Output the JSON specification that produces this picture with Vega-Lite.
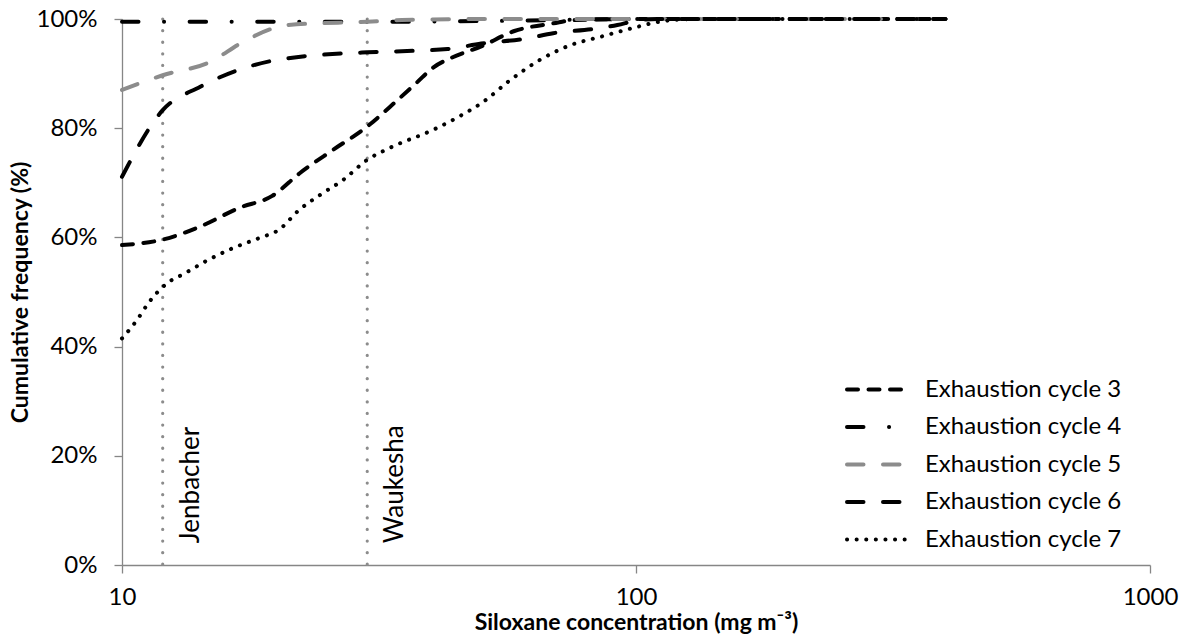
{
  "$schema": "https://vega.github.io/schema/vega-lite/v6.json",
  "width": 1028,
  "height": 546,
  "autosize": {"type": "none"},
  "padding": {"left": 122, "top": 19, "right": 38, "bottom": 69},
  "background": "white",
  "config": {
    "view": {"stroke": null},
    "font": "Lato",
    "axis": {
      "grid": false,
      "domainColor": "#868686",
      "domainWidth": 1.3,
      "tickColor": "#868686",
      "tickWidth": 1.3,
      "tickSize": 8,
      "labelFont": "Lato",
      "labelFontSize": 24,
      "labelColor": "black",
      "titleFont": "Lato",
      "titleFontSize": 23,
      "titleFontWeight": "bold",
      "titleColor": "black"
    }
  },
  "datasets": {
    "limits": [
      {"engine": "Jenbacher", "conc": 12},
      {"engine": "Waukesha", "conc": 30}
    ],
    "curves": [
      {"series": "Exhaustion cycle 3", "conc": 10, "freq": 0.586},
      {"series": "Exhaustion cycle 3", "conc": 12, "freq": 0.596},
      {"series": "Exhaustion cycle 3", "conc": 14.2, "freq": 0.620},
      {"series": "Exhaustion cycle 3", "conc": 16.9, "freq": 0.654},
      {"series": "Exhaustion cycle 3", "conc": 19.6, "freq": 0.676},
      {"series": "Exhaustion cycle 3", "conc": 22.2, "freq": 0.718},
      {"series": "Exhaustion cycle 3", "conc": 25.7, "freq": 0.760},
      {"series": "Exhaustion cycle 3", "conc": 30, "freq": 0.803},
      {"series": "Exhaustion cycle 3", "conc": 33.2, "freq": 0.839},
      {"series": "Exhaustion cycle 3", "conc": 37.4, "freq": 0.883},
      {"series": "Exhaustion cycle 3", "conc": 40.3, "freq": 0.911},
      {"series": "Exhaustion cycle 3", "conc": 44, "freq": 0.930},
      {"series": "Exhaustion cycle 3", "conc": 50, "freq": 0.950},
      {"series": "Exhaustion cycle 3", "conc": 58, "freq": 0.978},
      {"series": "Exhaustion cycle 3", "conc": 69, "freq": 0.992},
      {"series": "Exhaustion cycle 3", "conc": 76, "freq": 0.998},
      {"series": "Exhaustion cycle 3", "conc": 100, "freq": 1.0},
      {"series": "Exhaustion cycle 3", "conc": 400, "freq": 1.0},
      {"series": "Exhaustion cycle 4", "conc": 10, "freq": 0.995},
      {"series": "Exhaustion cycle 4", "conc": 30, "freq": 0.995},
      {"series": "Exhaustion cycle 4", "conc": 60, "freq": 0.997},
      {"series": "Exhaustion cycle 4", "conc": 100, "freq": 1.0},
      {"series": "Exhaustion cycle 4", "conc": 400, "freq": 1.0},
      {"series": "Exhaustion cycle 5", "conc": 10, "freq": 0.870},
      {"series": "Exhaustion cycle 5", "conc": 12, "freq": 0.897},
      {"series": "Exhaustion cycle 5", "conc": 14.8, "freq": 0.921},
      {"series": "Exhaustion cycle 5", "conc": 17.2, "freq": 0.958},
      {"series": "Exhaustion cycle 5", "conc": 19.7, "freq": 0.983},
      {"series": "Exhaustion cycle 5", "conc": 21, "freq": 0.989},
      {"series": "Exhaustion cycle 5", "conc": 30, "freq": 0.995},
      {"series": "Exhaustion cycle 5", "conc": 35, "freq": 0.998},
      {"series": "Exhaustion cycle 5", "conc": 50, "freq": 1.0},
      {"series": "Exhaustion cycle 5", "conc": 400, "freq": 1.0},
      {"series": "Exhaustion cycle 6", "conc": 10, "freq": 0.711},
      {"series": "Exhaustion cycle 6", "conc": 12, "freq": 0.833},
      {"series": "Exhaustion cycle 6", "conc": 14.2, "freq": 0.876},
      {"series": "Exhaustion cycle 6", "conc": 16.9, "freq": 0.907},
      {"series": "Exhaustion cycle 6", "conc": 20, "freq": 0.925},
      {"series": "Exhaustion cycle 6", "conc": 30, "freq": 0.939},
      {"series": "Exhaustion cycle 6", "conc": 35, "freq": 0.941},
      {"series": "Exhaustion cycle 6", "conc": 43, "freq": 0.945},
      {"series": "Exhaustion cycle 6", "conc": 50, "freq": 0.955},
      {"series": "Exhaustion cycle 6", "conc": 61, "freq": 0.964},
      {"series": "Exhaustion cycle 6", "conc": 69, "freq": 0.974},
      {"series": "Exhaustion cycle 6", "conc": 83, "freq": 0.982},
      {"series": "Exhaustion cycle 6", "conc": 92, "freq": 0.989},
      {"series": "Exhaustion cycle 6", "conc": 100, "freq": 0.997},
      {"series": "Exhaustion cycle 6", "conc": 110, "freq": 1.0},
      {"series": "Exhaustion cycle 6", "conc": 400, "freq": 1.0},
      {"series": "Exhaustion cycle 7", "conc": 10, "freq": 0.415},
      {"series": "Exhaustion cycle 7", "conc": 10.7, "freq": 0.449},
      {"series": "Exhaustion cycle 7", "conc": 11.3, "freq": 0.482},
      {"series": "Exhaustion cycle 7", "conc": 12.2, "freq": 0.515},
      {"series": "Exhaustion cycle 7", "conc": 13.3, "freq": 0.535},
      {"series": "Exhaustion cycle 7", "conc": 14.6, "freq": 0.557},
      {"series": "Exhaustion cycle 7", "conc": 16.4, "freq": 0.580},
      {"series": "Exhaustion cycle 7", "conc": 18.5, "freq": 0.599},
      {"series": "Exhaustion cycle 7", "conc": 20.2, "freq": 0.614},
      {"series": "Exhaustion cycle 7", "conc": 22.1, "freq": 0.650},
      {"series": "Exhaustion cycle 7", "conc": 24.3, "freq": 0.678},
      {"series": "Exhaustion cycle 7", "conc": 26.9, "freq": 0.705},
      {"series": "Exhaustion cycle 7", "conc": 30, "freq": 0.742},
      {"series": "Exhaustion cycle 7", "conc": 33.2, "freq": 0.764},
      {"series": "Exhaustion cycle 7", "conc": 40.3, "freq": 0.797},
      {"series": "Exhaustion cycle 7", "conc": 45, "freq": 0.820},
      {"series": "Exhaustion cycle 7", "conc": 50.4, "freq": 0.848},
      {"series": "Exhaustion cycle 7", "conc": 56.9, "freq": 0.888},
      {"series": "Exhaustion cycle 7", "conc": 65, "freq": 0.925},
      {"series": "Exhaustion cycle 7", "conc": 74.5, "freq": 0.952},
      {"series": "Exhaustion cycle 7", "conc": 85, "freq": 0.967},
      {"series": "Exhaustion cycle 7", "conc": 100, "freq": 0.985},
      {"series": "Exhaustion cycle 7", "conc": 111, "freq": 0.995},
      {"series": "Exhaustion cycle 7", "conc": 130, "freq": 1.0},
      {"series": "Exhaustion cycle 7", "conc": 400, "freq": 1.0}
    ]
  },
  "layer": [
    {
      "data": {"name": "limits"},
      "mark": {"type": "rule", "color": "#8c8c8c", "strokeWidth": 3.2, "strokeDash": [0.1, 11.5], "strokeCap": "round"},
      "encoding": {
        "x": {"field": "conc", "type": "quantitative", "scale": {"type": "log", "domain": [10, 1000]}, "title": "Siloxane concentration (mg m⁻³)"}
      }
    },
    {
      "data": {"name": "limits"},
      "mark": {"type": "text", "angle": 270, "align": "left", "baseline": "middle", "dy": 28, "fontSize": 26, "font": "Lato", "color": "black"},
      "encoding": {
        "x": {"field": "conc", "type": "quantitative", "scale": {"type": "log", "domain": [10, 1000]}, "title": "Siloxane concentration (mg m⁻³)"},
        "y": {"datum": 0.04, "type": "quantitative", "scale": {"domain": [0, 1]}, "title": "Cumulative frequency (%)"},
        "text": {"field": "engine"}
      }
    },
    {
      "data": {"name": "curves"},
      "mark": {"type": "line", "interpolate": "monotone", "strokeWidth": 4, "strokeCap": "round"},
      "encoding": {
        "x": {
          "field": "conc", "type": "quantitative",
          "scale": {"type": "log", "domain": [10, 1000]},
          "title": "Siloxane concentration (mg m⁻³)",
          "axis": {"values": [10, 100, 1000], "format": "d", "labelPadding": 12, "titlePadding": 2, "labelFlush": false}
        },
        "y": {
          "field": "freq", "type": "quantitative",
          "scale": {"domain": [0, 1]},
          "title": "Cumulative frequency (%)",
          "axis": {"values": [0, 0.2, 0.4, 0.6, 0.8, 1], "format": ".0%", "labelPadding": 17, "titlePadding": 4}
        },
        "color": {
          "field": "series", "type": "nominal",
          "scale": {"domain": ["Exhaustion cycle 3", "Exhaustion cycle 4", "Exhaustion cycle 5", "Exhaustion cycle 6", "Exhaustion cycle 7"], "range": ["#000000", "#000000", "#8c8c8c", "#000000", "#000000"]},
          "legend": {
            "title": null, "orient": "none", "legendX": 744, "legendY": 358,
            "symbolType": "M-3,0H3", "symbolSize": 441, "symbolStrokeWidth": 4, "symbolFillColor": "transparent",
            "labelFont": "Lato", "labelFontSize": 24, "labelColor": "black", "labelLimit": 400,
            "rowPadding": 12.5, "labelOffset": 34,
            "encode": {"symbols": {"update": {"strokeCap": {"value": "round"}, "fill": {"value": "transparent"}}}}
          }
        },
        "strokeDash": {
          "field": "series", "type": "nominal",
          "scale": {"domain": ["Exhaustion cycle 3", "Exhaustion cycle 4", "Exhaustion cycle 5", "Exhaustion cycle 6", "Exhaustion cycle 7"], "range": [[11, 10.5], [16.5, 25.5, 0.1, 25.5], [16.5, 19.5], [16.5, 19.5], [0.1, 9.5]]},
          "legend": {
            "title": null, "orient": "none", "legendX": 744, "legendY": 358,
            "symbolType": "M-3,0H3", "symbolSize": 441, "symbolStrokeWidth": 4, "symbolFillColor": "transparent",
            "labelFont": "Lato", "labelFontSize": 24, "labelColor": "black", "labelLimit": 400,
            "rowPadding": 12.5, "labelOffset": 34,
            "encode": {"symbols": {"update": {"strokeCap": {"value": "round"}, "fill": {"value": "transparent"}}}}
          }
        }
      }
    }
  ]
}
